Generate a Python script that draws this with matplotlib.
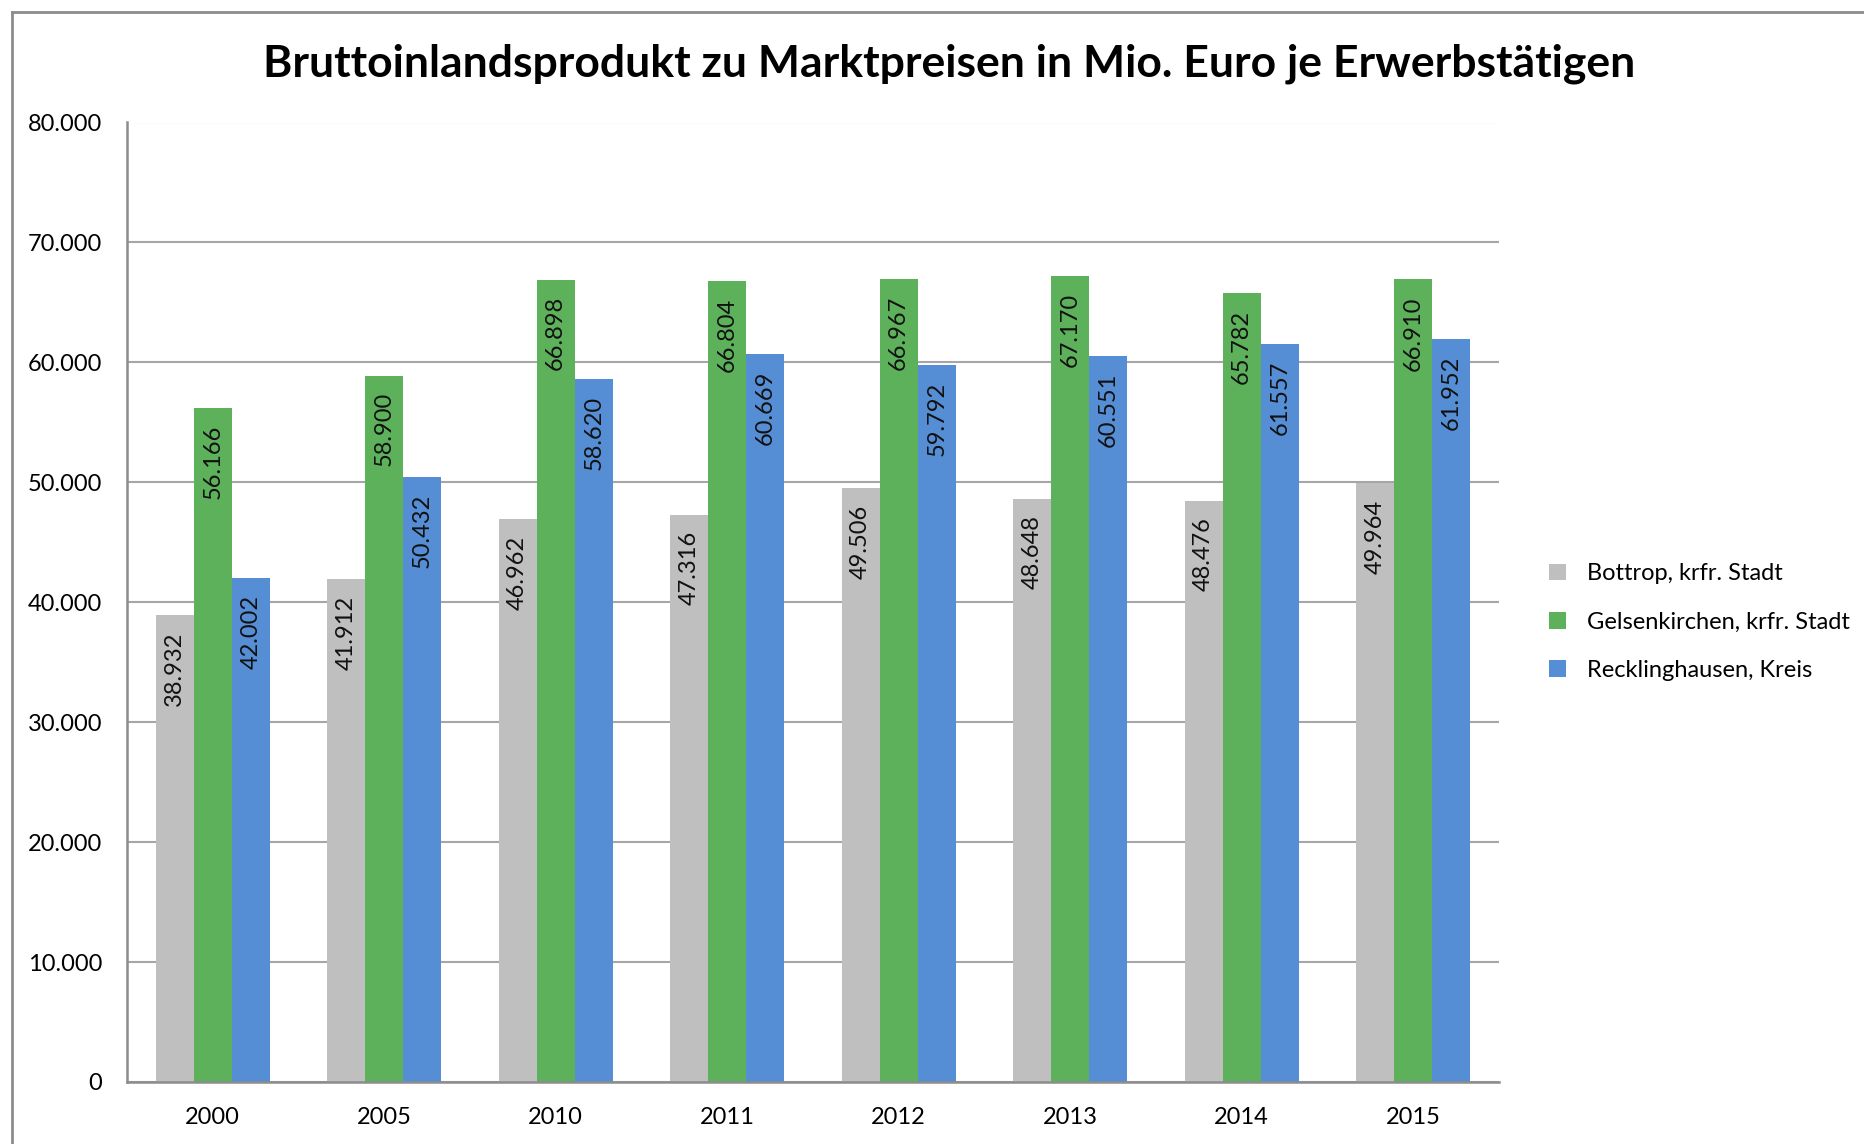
import matplotlib
matplotlib.use("Agg")
import matplotlib.pyplot as plt
from matplotlib.lines import Line2D
from matplotlib.patches import Patch
import numpy as np

years = ["2000", "2005", "2010", "2011", "2012", "2013", "2014", "2015"]
series_names = ["Bottrop, krfr. Stadt", "Gelsenkirchen, krfr. Stadt", "Recklinghausen, Kreis"]
bottrop = [38932, 41912, 46962, 47316, 49506, 48648, 48476, 49964]
gelsenkirchen = [56166, 58900, 66898, 66804, 66967, 67170, 65782, 66910]
recklinghausen = [42002, 50432, 58620, 60669, 59792, 60551, 61557, 61952]
yticks = [0, 10000, 20000, 30000, 40000, 50000, 60000, 70000, 80000]
title = "Bruttoinlandsprodukt zu Marktpreisen in Mio. Euro je Erwerbstätigen"

colors = ["#BFBFBF", "#5DB15A", "#558ED5"]
plt.rcParams['font.family'] = ['Lato', 'DejaVu Sans']

def de(v):
    return f"{v:,}".replace(",", ".")

W, H = 1865, 1144
fig = plt.figure(figsize=(W / 100, H / 100), dpi=100)
ax = fig.add_axes([127 / W, 1 - 1082 / H, (1499 - 127) / W, (1082 - 122.5) / H])

x = np.arange(len(years))
bw = 0.222
data = [bottrop, gelsenkirchen, recklinghausen]
for i, (vals, c) in enumerate(zip(data, colors)):
    pos = x + (i - 1) * bw
    ax.bar(pos, vals, width=bw, color=c, zorder=2)
    for px, v in zip(pos, vals):
        ax.annotate(de(v), (px, v), xytext=(0, -12), textcoords="offset points",
                    rotation=90, ha="center", va="top", fontsize=17, color="#111111", zorder=3)

ax.set_xlim(-0.5, len(years) - 0.5)
ax.set_ylim(0, 80000)
ax.set_yticks(yticks)
ax.set_yticklabels([de(v) for v in yticks], fontsize=17)
ax.set_xticks(x)
ax.set_xticklabels(years, fontsize=17)
ax.tick_params(axis="both", length=0, pad=18)
ax.grid(axis="y", color="#A6A6A6", linewidth=1.5, zorder=1)
for s in ["top", "right"]:
    ax.spines[s].set_visible(False)
for s in ["left", "bottom"]:
    ax.spines[s].set_color("#8C8C8C")
    ax.spines[s].set_linewidth(1.8)
    ax.spines[s].set_zorder(4)

fig.text(949 / W, 1 - 64 / H, title, ha="center", va="center", fontsize=32, fontweight="bold")

handles = [Patch(facecolor=c, edgecolor="none") for c in colors]
leg = fig.legend(handles, series_names, loc="center left", bbox_to_anchor=(1540 / W, 1 - 622 / H),
                 frameon=False, fontsize=17, handlelength=0.7, handleheight=0.7,
                 handletextpad=0.9, labelspacing=1.15, borderaxespad=0)

# outer chart border (extends off the image right and bottom)
bx, by = 12 / W, 1 - 12 / H
fig.add_artist(Line2D([bx, bx], [-0.05, by], transform=fig.transFigure, color="#8C8C8C", linewidth=2))
fig.add_artist(Line2D([bx, 1.05], [by, by], transform=fig.transFigure, color="#8C8C8C", linewidth=2))

fig.savefig("out.png", dpi=100)
